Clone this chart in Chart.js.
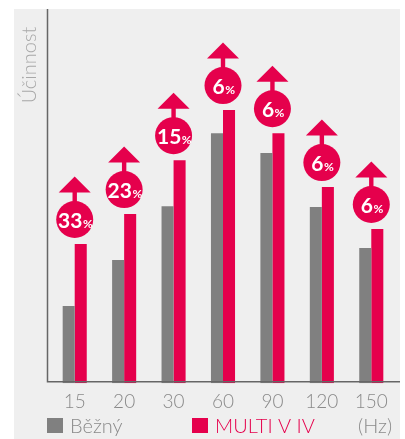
<!DOCTYPE html>
<html>
<head>
<meta charset="utf-8">
<script src="https://cdn.jsdelivr.net/npm/chart.js@4/dist/chart.umd.min.js"></script>
<style>
html,body{margin:0;padding:0;background:#ffffff;}
canvas{display:block;}
</style>
</head>
<body>
<canvas id="c" width="405" height="439"></canvas>
<script>
const categories = ['15', '20', '30', '60', '90', '120', '150'];
const standardValues = [20.6, 32.9, 47.3, 66.8, 61.5, 47.1, 36.1];
const multiValues = [37.2, 45.2, 59.6, 73.0, 66.8, 52.4, 41.2];
const gainLabels = ['33', '23', '15', '6', '6', '6', '6'];
const seriesNames = ['Běžný', 'MULTI V IV'];
const yAxisTitle = 'Účinnost';
const xUnitLabel = '(Hz)';

const GRAY = '#808080';
const MAGENTA = '#e5004c';
const TEXT_GRAY = '#8a8a8a';
const FONT = 'Lato, "Open Sans", sans-serif';

const decorPlugin = {
  id: 'decor',
  beforeDraw(chart) {
    const ctx = chart.ctx;
    ctx.save();
    ctx.fillStyle = '#ffffff';
    ctx.fillRect(0, 0, chart.width, chart.height);
    ctx.fillStyle = '#efefef';
    ctx.fillRect(14, 9, 386, 430);
    // y axis title
    ctx.translate(30, 65);
    ctx.rotate(-Math.PI / 2);
    ctx.fillStyle = '#a8a8a8';
    ctx.font = '300 20px ' + FONT;
    ctx.textAlign = 'center';
    ctx.textBaseline = 'middle';
    ctx.fillText(yAxisTitle, 0, 0);
    ctx.restore();
  },
  afterDatasetsDraw(chart) {
    const ctx = chart.ctx;
    const area = chart.chartArea;
    const xs = chart.scales.x;
    ctx.save();
    // axes
    ctx.strokeStyle = '#666666';
    ctx.lineWidth = 1.5;
    ctx.beginPath();
    ctx.moveTo(area.left - 2.5, 9);
    ctx.lineTo(area.left - 2.5, area.bottom - 1.5);
    ctx.lineTo(400, area.bottom - 1.5);
    ctx.stroke();

    // gain markers
    const meta = chart.getDatasetMeta(1);
    meta.data.forEach((bar, i) => {
      const cx = xs.getPixelForValue(i);
      const cy = bar.y - 24.5;
      const r = 18.5;
      ctx.fillStyle = MAGENTA;
      ctx.beginPath();
      ctx.moveTo(cx, cy - 43);
      ctx.lineTo(cx + 16, cy - 27);
      ctx.lineTo(cx - 16, cy - 27);
      ctx.closePath();
      ctx.fill();
      ctx.fillRect(cx - 2.2, cy - 28, 4.4, 12);
      ctx.beginPath();
      ctx.arc(cx, cy, r, 0, Math.PI * 2);
      ctx.fill();
      const big = gainLabels[i];
      ctx.fillStyle = '#ffffff';
      ctx.textBaseline = 'alphabetic';
      ctx.textAlign = 'left';
      ctx.font = 'bold 21px ' + FONT;
      const wBig = ctx.measureText(big).width;
      ctx.font = 'bold 12px ' + FONT;
      const wPct = ctx.measureText('%').width;
      const start = cx - (wBig + wPct) / 2 + 0.5;
      ctx.font = 'bold 21px ' + FONT;
      ctx.fillText(big, start, cy + 8.5);
      ctx.font = 'bold 12px ' + FONT;
      ctx.fillText('%', start + wBig + 0.5, cy + 8.5);
    });

    // legend
    const ds = chart.data.datasets;
    const legendX = [47, 192];
    ctx.font = '300 20px ' + FONT;
    ctx.textBaseline = 'alphabetic';
    ctx.textAlign = 'left';
    ds.forEach((d, k) => {
      ctx.fillStyle = d.backgroundColor;
      ctx.fillRect(legendX[k], 418, 16, 15);
      ctx.fillStyle = k === 0 ? TEXT_GRAY : MAGENTA;
      ctx.fillText(d.label, legendX[k] + 23, 433);
    });
    ctx.fillStyle = TEXT_GRAY;
    ctx.fillText(xUnitLabel, 358, 433);
    ctx.restore();
  }
};

new Chart(document.getElementById('c'), {
  type: 'bar',
  data: {
    labels: categories,
    datasets: [
      { label: seriesNames[0], data: standardValues, backgroundColor: GRAY },
      { label: seriesNames[1], data: multiValues, backgroundColor: MAGENTA }
    ]
  },
  options: {
    responsive: false,
    animation: false,
    devicePixelRatio: 1,
    layout: { padding: { left: 50, right: 9, top: 9, bottom: 19 } },
    datasets: { bar: { categoryPercentage: 0.487, barPercentage: 1.0, borderWidth: 0 } },
    plugins: { legend: { display: false }, tooltip: { enabled: false } },
    scales: {
      x: {
        grid: { display: false, drawTicks: false },
        border: { display: false },
        ticks: { color: TEXT_GRAY, font: { family: FONT, size: 19, weight: 300 }, padding: 7 }
      },
      y: { display: false, min: 0, max: 100 }
    }
  },
  plugins: [decorPlugin]
});
</script>
</body>
</html>
